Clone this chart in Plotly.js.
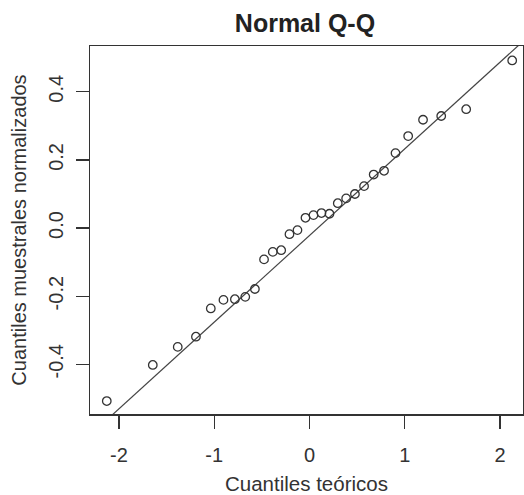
<!DOCTYPE html>
<html>
<head>
<meta charset="utf-8">
<script src="https://cdn.plot.ly/plotly-3.0.1.min.js"></script>
<style>html,body{margin:0;padding:0;background:#fff;}#chart{width:524px;height:495px;}</style>
</head>
<body>
<div id="chart"></div>
<script>
// Theoretical quantiles (x)
var theoreticalQ = [-2.128, -1.645, -1.383, -1.192, -1.036, -0.903, -0.783, -0.674, -0.573, -0.477,
  -0.385, -0.297, -0.210, -0.126, -0.042, 0.042, 0.126, 0.210, 0.297, 0.385,
  0.477, 0.573, 0.674, 0.783, 0.903, 1.036, 1.192, 1.383, 1.645, 2.128];
// Normalized sample quantiles (y)
var sampleQ = [-0.508, -0.402, -0.349, -0.319, -0.236, -0.211, -0.209, -0.202, -0.179, -0.092,
  -0.070, -0.065, -0.018, -0.006, 0.030, 0.038, 0.044, 0.042, 0.073, 0.087,
  0.100, 0.123, 0.157, 0.168, 0.220, 0.270, 0.318, 0.329, 0.349, 0.492];
// Reference line endpoints (extended beyond the frame and clipped)
var refLineX = [-2.5, 2.5];
var refLineY = [-0.658, 0.614];
// Tick values and labels
var xTickVals = [-2, -1, 0, 1, 2];
var xTickText = ["-2", "-1", "0", "1", "2"];
var yTickVals = [-0.4, -0.2, 0.0, 0.2, 0.4];
var yTickText = ["-0.4", "-0.2", "0.0", "0.2", "0.4"];

var font = "Liberation Sans, Arial, sans-serif";
var ink = "#333333";

var traces = [
  {
    x: refLineX, y: refLineY, type: "scatter", mode: "lines",
    line: {color: "#444444", width: 1.2}, hoverinfo: "skip", cliponaxis: true
  },
  {
    x: theoreticalQ, y: sampleQ, type: "scatter", mode: "markers",
    marker: {symbol: "circle-open", size: 8.5, color: "#333333", line: {width: 1.3, color: "#333333"}},
    cliponaxis: false
  }
];

var layout = {
  width: 524, height: 495,
  margin: {l: 90, r: 1, t: 46, b: 81, pad: 0},
  paper_bgcolor: "#ffffff", plot_bgcolor: "#ffffff",
  showlegend: false,
  font: {family: font, color: ink, size: 20},
  title: {
    text: "<b>Normal Q-Q</b>",
    font: {family: font, size: 25, color: "#222222"},
    x: 0.4965, xref: "paper", xanchor: "center",
    y: 23, yref: "container", yanchor: "middle"
  },
  xaxis: {
    range: [-2.304, 2.2415],
    tickmode: "array", tickvals: xTickVals, ticktext: xTickText,
    ticks: "outside", ticklen: 13, tickwidth: 1.3, tickcolor: ink,
    ticklabelstandoff: 9,
    showline: true, linecolor: ink, linewidth: 1.5, mirror: true,
    showgrid: false, zeroline: false,
    tickfont: {family: font, size: 20, color: "#333333"},
    title: {text: "Cuantiles teóricos", font: {family: font, size: 20.5, color: "#333333"}, standoff: 12}
  },
  yaxis: {
    range: [-0.546, 0.5345],
    tickmode: "array", tickvals: yTickVals, ticktext: yTickText,
    tickangle: -90,
    ticks: "outside", ticklen: 13, tickwidth: 1.3, tickcolor: ink,
    ticklabelstandoff: 5,
    showline: true, linecolor: ink, linewidth: 1.5, mirror: true,
    showgrid: false, zeroline: false,
    tickfont: {family: font, size: 20, color: "#333333"},
    title: {text: "Cuantiles muestrales normalizados", font: {family: font, size: 20, color: "#333333"}, standoff: 12}
  }
};

Plotly.newPlot("chart", traces, layout, {displayModeBar: false, staticPlot: true});
</script>
</body>
</html>
